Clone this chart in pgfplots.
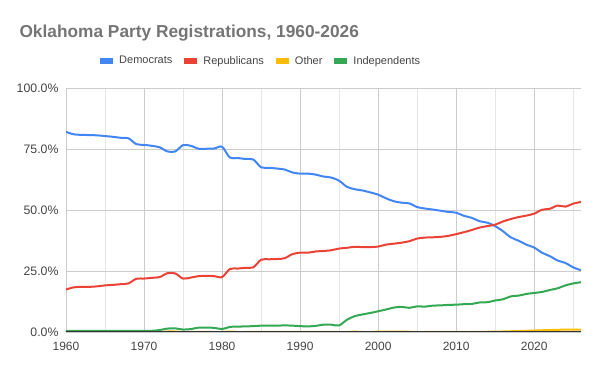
\documentclass[border=0pt]{standalone}
\usepackage{fontspec}
\setmainfont{Liberation Sans}
\usepackage{pgfplots}
\pgfplotsset{compat=1.18}
\definecolor{dem}{HTML}{4285F4}
\definecolor{rep}{HTML}{EA4335}
\definecolor{oth}{HTML}{FBBC04}
\definecolor{ind}{HTML}{34A853}
\definecolor{titlec}{HTML}{757575}
\definecolor{tickc}{HTML}{444444}
\definecolor{gridc}{HTML}{CCCCCC}
\definecolor{mgridc}{HTML}{E6E6E6}
\definecolor{basec}{HTML}{333333}
\pgfplotstableread{
year dem rep oth ind
1960 82.0 17.4 0.0 0.5
1961 81.0 18.3 0.0 0.5
1962 80.8 18.5 0.0 0.5
1963 80.7 18.5 0.0 0.5
1964 80.6 18.7 0.0 0.5
1965 80.3 19.1 0.0 0.5
1966 80.0 19.3 0.0 0.5
1967 79.6 19.6 0.0 0.5
1968 79.4 19.9 0.0 0.5
1969 77.0 21.8 0.0 0.5
1970 76.7 21.9 0.0 0.5
1971 76.3 22.2 0.0 0.5
1972 75.7 22.5 0.0 0.8
1973 74.0 24.1 0.2 1.4
1974 74.0 24.0 0.2 1.5
1975 76.6 21.9 0.0 1.0
1976 76.3 22.3 0.0 1.2
1977 75.1 22.9 0.0 1.8
1978 75.1 23.0 0.0 1.8
1979 75.2 22.9 0.0 1.7
1980 75.9 22.5 0.0 1.2
1981 71.5 25.8 0.2 2.1
1982 71.3 26.0 0.0 2.2
1983 70.9 26.3 0.0 2.3
1984 70.7 26.5 0.0 2.4
1985 67.5 29.6 0.0 2.6
1986 67.3 29.8 0.0 2.6
1987 67.0 29.9 0.0 2.6
1988 66.6 30.2 0.0 2.7
1989 65.4 31.9 0.0 2.6
1990 64.9 32.5 0.0 2.4
1991 64.9 32.5 0.0 2.3
1992 64.5 33.0 0.0 2.5
1993 63.7 33.2 0.0 3.0
1994 63.3 33.5 0.0 3.0
1995 62.0 34.2 0.0 2.7
1996 59.5 34.5 0.0 5.0
1997 58.5 34.9 0.15 6.5
1998 58.0 34.8 0.0 7.2
1999 57.2 34.8 0.0 7.8
2000 56.3 35.0 0.15 8.5
2001 54.8 35.8 0.15 9.2
2002 53.6 36.2 0.15 10.0
2003 53.0 36.6 0.15 10.3
2004 52.7 37.2 0.1 9.9
2005 51.2 38.3 0.0 10.5
2006 50.6 38.7 0.0 10.4
2007 50.2 38.8 0.0 10.8
2008 49.7 39.0 0.0 10.9
2009 49.2 39.4 0.0 11.1
2010 48.9 40.1 0.0 11.2
2011 47.6 40.9 0.0 11.4
2012 46.8 41.8 0.0 11.5
2013 45.4 42.8 0.05 12.1
2014 44.8 43.4 0.1 12.2
2015 43.4 44.0 0.15 12.9
2016 41.3 45.3 0.2 13.4
2017 38.8 46.3 0.3 14.6
2018 37.4 47.1 0.4 14.9
2019 35.8 47.7 0.5 15.6
2020 34.6 48.5 0.6 16.0
2021 32.5 50.1 0.7 16.4
2022 31.1 50.5 0.8 17.2
2023 29.3 51.8 0.9 17.9
2024 28.3 51.4 0.95 19.1
2025 26.5 52.6 1.0 19.9
2026 25.3 53.3 1.0 20.4
}\datatable
\begin{document}
\begin{tikzpicture}
\useasboundingbox (-66pt,-39pt) rectangle (534pt,332pt);
\begin{axis}[
  at={(0pt,0pt)}, anchor=south west,
  scale only axis, width=515pt, height=244pt,
  xmin=1960, xmax=2026, ymin=0, ymax=100,
  xtick={1960,1970,...,2020}, minor xtick={1965,1975,...,2025},
  ytick={0,25,50,75,100},
  grid=both,
  major grid style={draw=gridc, line width=0.8pt},
  minor grid style={draw=mgridc, line width=0.8pt},
  axis line style={draw=none},
  tick style={draw=none},
  /pgf/number format/assume math mode=true,
  /pgf/number format/1000 sep={},
  xticklabel style={font=\fontsize{12}{14}\selectfont, text=tickc, anchor=north, yshift=-7pt},
  yticklabel style={font=\fontsize{12.3}{14}\selectfont, text=tickc, anchor=east, xshift=-4pt},
  yticklabel={\pgfmathprintnumber[fixed,fixed zerofill,precision=1]{\tick}\%},
  legend columns=-1,
  legend style={draw=none, fill=none, at={(0.379,1.111)}, anchor=center,
    font=\fontsize{11}{13}\selectfont, text=tickc,
    /tikz/every even column/.append style={column sep=10pt},
    /tikz/every odd column/.append style={column sep=4pt}},
  legend image code/.code={\fill[#1] (0pt,-2pt) rectangle (11pt,2pt);},
]
\addplot[color=dem, line width=2pt, smooth] table[x=year,y=dem] {\datatable};
\addlegendentry{Democrats}
\addplot[color=rep, line width=2pt, smooth] table[x=year,y=rep] {\datatable};
\addlegendentry{Republicans}
\addplot[color=oth, line width=2pt, smooth] table[x=year,y=oth] {\datatable};
\addlegendentry{Other}
\addplot[color=ind, line width=2pt, smooth] table[x=year,y=ind] {\datatable};
\addlegendentry{Independents}
\addplot[color=basec, line width=1pt, forget plot] coordinates {(1960,0) (2026,0)};
\end{axis}
\node[anchor=base west, font=\bfseries\fontsize{17.3}{21}\selectfont, text=titlec] at (-50pt,294.5pt) {Oklahoma Party Registrations, 1960-2026};
\end{tikzpicture}
\end{document}
